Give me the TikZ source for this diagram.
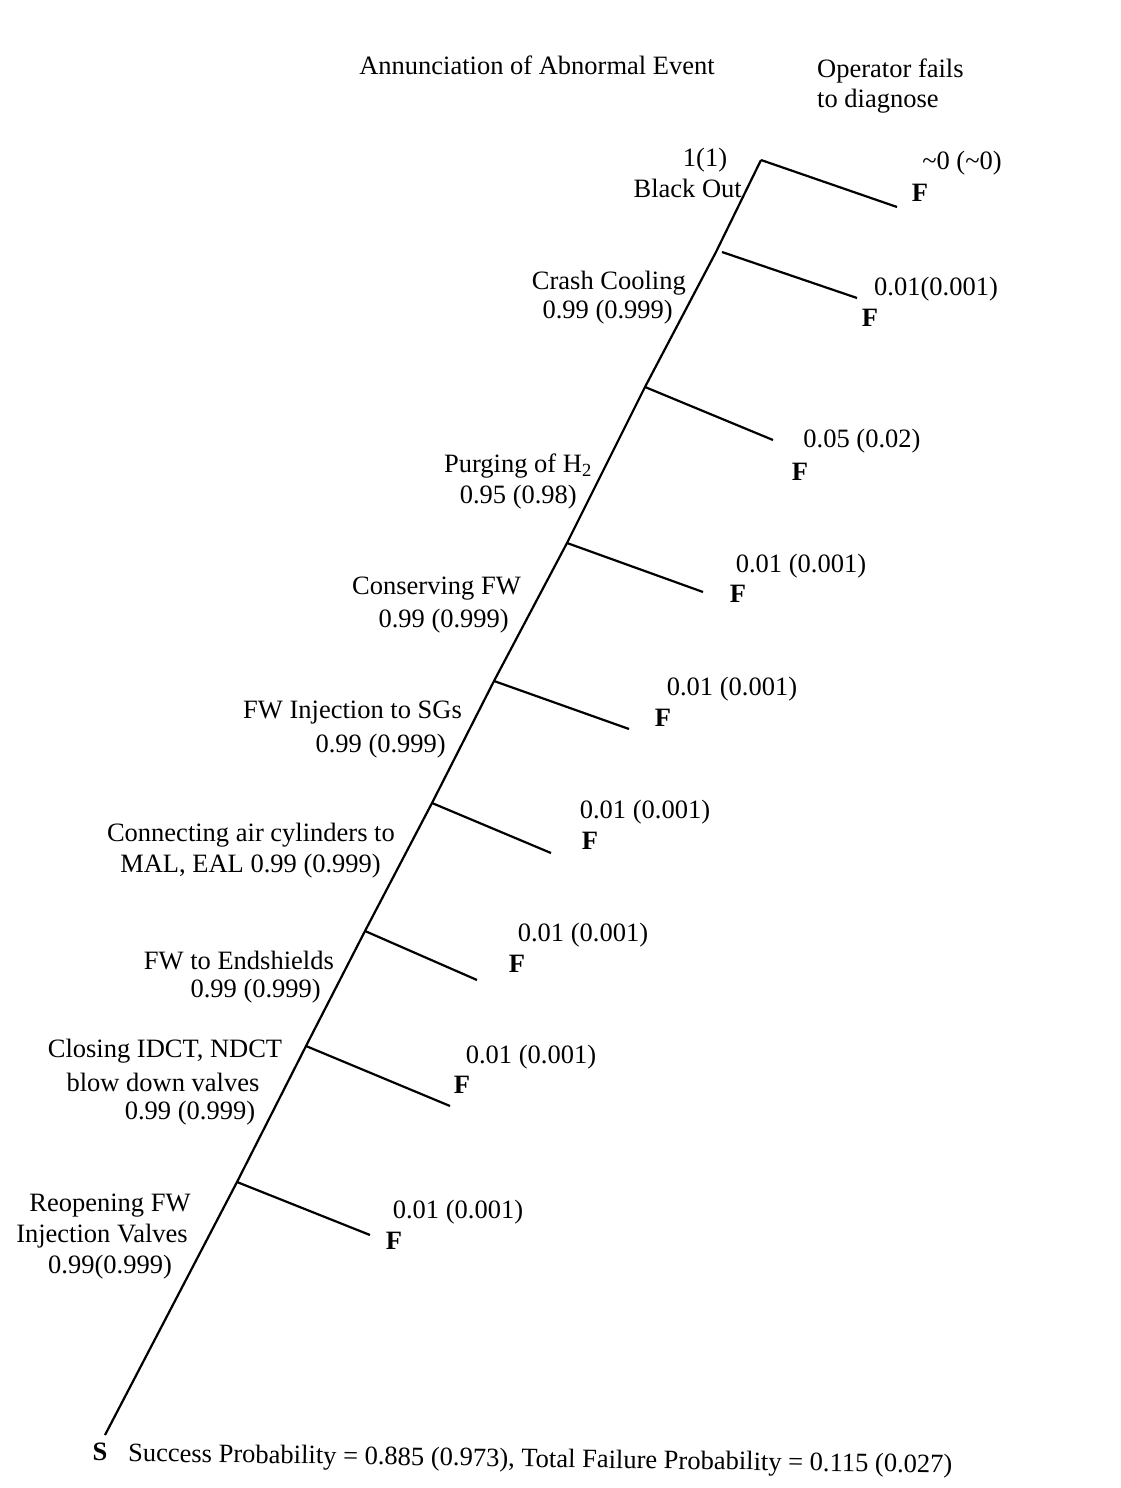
\documentclass[tikz,border=0pt]{standalone}
\usepackage{fontspec}
\setmainfont{Liberation Serif}
\begin{document}
\begin{tikzpicture}[x=1pt,y=-1pt,
  lbl/.style={inner sep=0pt,font=\fontsize{26.5}{30}\selectfont},
  fl/.style={inner sep=0pt,font=\fontsize{26.5}{30}\selectfont\bfseries},
  br/.style={line width=2.2pt},
  trunk/.style={line width=2.2pt,line join=miter}]
\useasboundingbox (0,0) rectangle (1120,1488);
% trunk points
\coordinate (b1) at (761,160);
\coordinate (t2) at (716,252);
\coordinate (b2) at (722,252);
\coordinate (b3) at (645,387);
\coordinate (b4) at (567,543);
\coordinate (b5) at (494,681);
\coordinate (b6) at (432,803);
\coordinate (b7) at (365,931);
\coordinate (b8) at (306,1046);
\coordinate (b9) at (237,1182);
\coordinate (s) at (105,1435);
% failure branch ends
\coordinate (e1) at (897,207);
\coordinate (e2) at (857,298);
\coordinate (e3) at (773,440);
\coordinate (e4) at (703,592);
\coordinate (e5) at (629,729);
\coordinate (e6) at (551,853);
\coordinate (e7) at (477,980);
\coordinate (e8) at (450,1106);
\coordinate (e9) at (370,1235);
\draw[trunk] (b1) -- (t2) -- (b3) -- (b4) -- (b5) -- (b6) -- (b7) -- (b8) -- (b9) -- (s);
\foreach \i in {1,...,9} \draw[br] (b\i) -- (e\i);
% headings
\node[lbl] (h1) at (537,65) {Annunciation of Abnormal Event};
\node[lbl,anchor=west] (h2) at (817,71) {Operator fails};
\node[lbl,anchor=west] (h3) at (817,101) {to diagnose};
% success labels
\node[lbl] (s1a) at (705,160) {1(1)};
\node[lbl,anchor=east] (s1b) at (742,188) {Black Out};
\node[lbl,anchor=east] (s2a) at (686,283) {Crash Cooling};
\node[lbl,anchor=east] (s2b) at (673,312) {0.99 (0.999)};
\node[lbl,anchor=east] (s3a) at (592,466) {Purging of H\textsubscript{2}};
\node[lbl,anchor=east] (s3b) at (577,497) {0.95 (0.98)};
\node[lbl,anchor=east] (s4a) at (521,589) {Conserving FW};
\node[lbl,anchor=east] (s4b) at (509,621) {0.99 (0.999)};
\node[lbl,anchor=east] (s5a) at (462,713) {FW Injection to SGs};
\node[lbl,anchor=east] (s5b) at (446,746) {0.99 (0.999)};
\node[lbl,anchor=east] (s6a) at (395,835) {Connecting air cylinders to};
\node[lbl,anchor=east] (s6b) at (381,866) {MAL, EAL 0.99 (0.999)};
\node[lbl,anchor=east] (s7a) at (334,960) {FW to Endshields};
\node[lbl,anchor=east] (s7b) at (321,991) {0.99 (0.999)};
\node[lbl] (s8a) at (165,1051) {Closing IDCT, NDCT};
\node[lbl] (s8b) at (163,1082) {blow down valves};
\node[lbl] (s8c) at (190,1113) {0.99 (0.999)};
\node[lbl] (s9a) at (110,1206) {Reopening FW};
\node[lbl] (s9b) at (102,1236) {Injection Valves};
\node[lbl] (s9c) at (110,1267) {0.99(0.999)};
% failure labels
\node[lbl] (p1) at (962,163) {\textasciitilde0 (\textasciitilde0)};
\node[fl] (f1) at (920,193) {F};
\node[lbl] (p2) at (936,289) {0.01(0.001)};
\node[fl] (f2) at (870,318) {F};
\node[lbl] (p3) at (862,441) {0.05 (0.02)};
\node[fl] (f3) at (800,472) {F};
\node[lbl] (p4) at (801,566) {0.01 (0.001)};
\node[fl] (f4) at (738,594) {F};
\node[lbl] (p5) at (732,689) {0.01 (0.001)};
\node[fl] (f5) at (663,718) {F};
\node[lbl] (p6) at (645,812) {0.01 (0.001)};
\node[fl] (f6) at (590,841) {F};
\node[lbl] (p7) at (583,935) {0.01 (0.001)};
\node[fl] (f7) at (517,964) {F};
\node[lbl] (p8) at (531,1057) {0.01 (0.001)};
\node[fl] (f8) at (462,1085) {F};
\node[lbl] (p9) at (458,1212) {0.01 (0.001)};
\node[fl] (f9) at (394,1241) {F};
% bottom
\node[fl] (sl) at (100,1452) {S};
\node[lbl,anchor=west,rotate=-0.8] (tot) at (128,1455) {Success Probability = 0.885 (0.973), Total Failure Probability = 0.115 (0.027)};
\end{tikzpicture}
\end{document}
